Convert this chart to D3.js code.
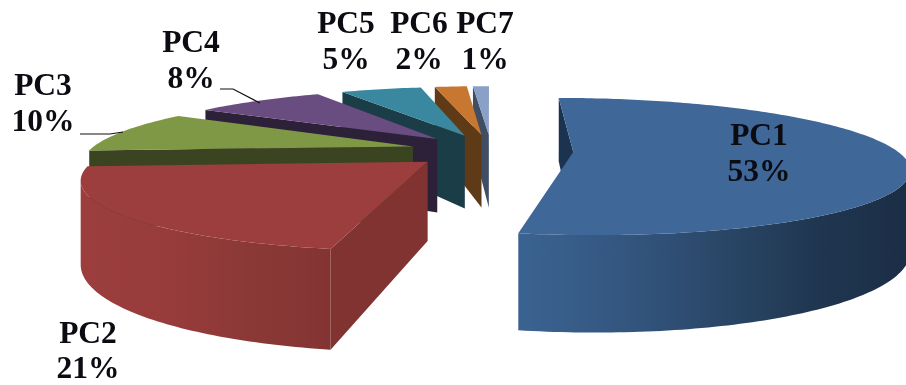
<!DOCTYPE html>
<html>
<head>
<meta charset="utf-8">
<script src="https://cdn.jsdelivr.net/npm/d3@7"></script>
<style>
html,body{margin:0;padding:0;background:#fff;overflow:hidden}
svg{display:block;filter:blur(0.55px)}
text{font-family:"Liberation Serif","Times New Roman",serif;font-weight:700;font-size:31.5px;fill:#0b0b12;text-anchor:middle}
</style>
</head>
<body>
<svg id="c" width="906" height="385"></svg>
<script>
// Data
const categories = ["PC1","PC2","PC3","PC4","PC5","PC6","PC7"];
const shares = [53,21,10,8,5,2,1];
const shareLabels = ["53%","21%","10%","8%","5%","2%","1%"];
// Colours per slice: top face, radial side face, rim shade stops (left to right)
const topColors  = ["#3f6899","#9b3e3d","#7f9845","#694c80","#39889f","#c7772f","#8aa0c6"];
const sideColors = ["#1c3350","#813331","#3a4420","#2c2139","#1b3d47","#5f3a17","#3f4e63"];
const rimStops   = [["#3b6391","#345781","#2b4869","#203751","#1b2d45"],["#9b3e3d","#983c3b","#8b3937","#833432"],
                    ["#3a4420"],["#2c2139"],["#1b3d47"],["#5f3a17"],["#3f4e63"]];
// Label anchors (centre x, first baseline) and leader lines: layout only
const labelPos = [[759,145],[88,343],[43,95],[191,52],[346,33],[419,33],[485,33]];
const leaders = {PC3:[[80,134],[110,134],[123,132]], PC4:[[220,89],[233,89],[260,103]]};

// Perspective camera: plane radius 1 = pie radius
const VX=490, HORIZON=-157, GROUND=309, SR=325, Q=0.212, DEPTH=76.8;
const EXPLODE=0.2534, OX=0.004, OY=0.024;
function project(x,y,z){ // z: 0 top, 1 bottom
  const w=1+Q*y;
  return [VX+SR*x/w, HORIZON+(GROUND+DEPTH*z)/w];
}
const svg=d3.select("#c");
const defs=svg.append("defs");
const line=d3.line();
const poly=pts=>line(pts)+"Z";
const area=pts=>d3.polygonArea(pts);
const pie=d3.pie().sort(null).startAngle(0).endAngle(2*Math.PI);
const arcs=pie(shares);

const slices=arcs.map((a,i)=>{
  const mid=(a.startAngle+a.endAngle)/2;
  const cx=OX+EXPLODE*Math.sin(mid), cy=OY+EXPLODE*Math.cos(mid);
  const n=Math.max(4,Math.ceil((a.endAngle-a.startAngle)/(Math.PI/180)));
  const thetas=d3.range(n+1).map(k=>a.startAngle+(a.endAngle-a.startAngle)*k/n);
  const rim=thetas.map(t=>[cx+Math.sin(t),cy+Math.cos(t)]);
  return {i,cx,cy,rim};
});

// Painter's order: far slices first, PC1 last
[...slices].reverse().forEach(s=>{
  const g=svg.append("g");
  const T=p=>project(p[0],p[1],0), B=p=>project(p[0],p[1],1);
  const apex=[s.cx,s.cy];
  const first=s.rim[0], last=s.rim[s.rim.length-1];
  // radial side faces (back-face culled; d3.polygonArea is positive for visible faces here)
  const startFace=[T(apex),T(first),B(first),B(apex)];
  const endFace=[T(last),T(apex),B(apex),B(last)];
  [startFace,endFace].forEach(f=>{
    if(area(f)>0) g.append("path").attr("d",poly(f)).attr("fill",sideColors[s.i]);
  });
  // rim: one band across the visible part of the arc, shaded left to right
  const visible=d3.pairs(s.rim).filter(([p,q])=>area([T(p),T(q),B(q),B(p)])>0);
  if(visible.length){
    const pts=[visible[0][0],...visible.map(d=>d[1])];
    const band=[...pts.map(T),...pts.slice().reverse().map(B)];
    const ext=d3.extent(band,d=>d[0]);
    const id="rim"+s.i, stops=rimStops[s.i];
    const at=d3.scaleLinear().domain([0,Math.max(1,stops.length-1)]).range([0,1]);
    defs.append("linearGradient").attr("id",id).attr("gradientUnits","userSpaceOnUse")
      .attr("x1",ext[0]).attr("x2",ext[1]).attr("y1",0).attr("y2",0)
      .selectAll("stop").data(stops).join("stop")
      .attr("offset",(d,k)=>at(k)).attr("stop-color",d=>d);
    g.append("path").attr("d",poly(band)).attr("fill","url(#"+id+")");
  }
  // top
  g.append("path").attr("d",poly([T(apex),...s.rim.map(T)])).attr("fill",topColors[s.i]);
});

// Leader lines
Object.values(leaders).forEach(pts=>{
  svg.append("path").attr("d",line(pts)).attr("fill","none").attr("stroke","#111").attr("stroke-width",1.2);
});

// Labels
categories.forEach((c,i)=>{
  const [x,y]=labelPos[i];
  const t=svg.append("text").attr("x",x).attr("y",y);
  t.append("tspan").attr("x",x).text(c);
  t.append("tspan").attr("x",x).attr("dy",i===1?35:36).text(shareLabels[i]);
});
</script>
</body>
</html>
